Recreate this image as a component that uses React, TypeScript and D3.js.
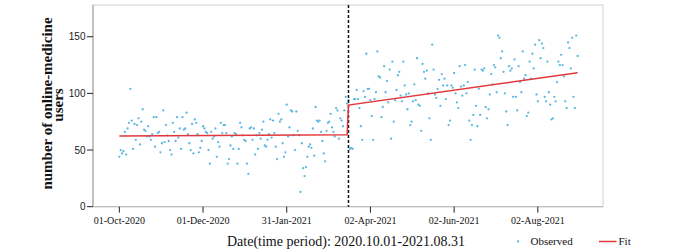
import React from "react";
import * as d3 from "d3";

// ---- data ----
const startDate = new Date(Date.UTC(2020, 9, 1)); // 01-Oct-2020, one value per day
const interventionDay = 167; // 17-Mar-2021

const observedPre = [
  44, 50, 47, 49, 66, 46, 69, 74, 104, 76,
  51, 73, 59, 72, 78, 55, 75, 86, 68, 67,
  62, 71, 62, 59, 64, 79, 53, 79, 65, 66,
  48, 56, 85, 57, 72, 63, 58, 50, 46, 74,
  66, 58, 79, 61, 69, 51, 79, 68, 69, 83,
  64, 56, 50, 73, 47, 77, 74, 64, 48, 52,
  58, 71, 69, 66, 65, 50, 38, 66, 60, 62,
  69, 44, 57, 53, 74, 65, 72, 72, 65, 38,
  42, 54, 62, 51, 65, 64, 38, 51, 74, 70,
  63, 59, 58, 38, 29, 69, 70, 59, 69, 46,
  63, 51, 65, 60, 68, 75, 54, 53, 59, 64,
  77, 61, 76, 65, 53, 42, 82, 75, 77, 56,
  44, 48, 90, 62, 70, 85, 84, 63, 50, 84,
  67, 63, 13, 56, 34, 27, 35, 44, 53, 55,
  52, 69, 45, 88, 76, 75, 76, 66, 58, 47,
  40, 67, 74, 75, 82, 70, 66, 62, 87, 85,
  60, 78, 76, 71, 85, 97, 91,
];

const observedPost = [
  94, 51, 52, 51, 95, 95, 103, 95, 87, 71, 59,
  102, 97, 135, 104, 104, 94, 80, 59, 95, 101,
  137, 115, 114, 79, 88, 124, 101, 111, 92, 121,
  60, 128, 75, 94, 103, 116, 119, 98, 93, 128,
  107, 99, 86, 100, 72, 75, 93, 108, 94, 131,
  90, 89, 67, 126, 119, 113, 120, 100, 78, 59,
  143, 121, 99, 96, 104, 112, 89, 117, 107, 113,
  95, 107, 72, 76, 107, 105, 118, 100, 92, 87,
  124, 106, 98, 107, 125, 100, 110, 76, 59, 72,
  81, 121, 89, 71, 104, 81, 121, 120, 122, 88,
  78, 86, 99, 117, 108, 125, 123, 101, 151, 149,
  131, 137, 119, 100, 84, 72, 124, 120, 122, 97,
  130, 97, 85, 124, 110, 101, 137, 113, 116, 80,
  83, 128, 113, 135, 122, 143, 99, 93, 147, 131,
  144, 140, 97, 93, 128, 101, 90, 77, 78, 97,
  93, 110, 128, 125, 134, 125, 115, 93, 87, 145,
  140, 122, 149, 97, 87, 151, 133,
];

const observed = [...observedPre, ...observedPost];

const fitDays = [0, 166, 167, 334];
const fitValues = [62.4, 63.5, 89.7, 118.2];

const xTickDates = ["2020-10-01", "2020-12-01", "2021-01-31", "2021-04-02", "2021-06-02", "2021-08-02"];
const yTicks = [0, 50, 100, 150];

const xTitle = "Date(time period): 2020.10.01-2021.08.31";
const yTitleLines = ["number of online-medicine", "users"];
const legendLabels = ["Observed", "Fit"];

// ---- layout ----
const W = 687;
const H = 252;
const plot = { left: 93, right: 603, top: 5, bottom: 206.7 };

const dayToDate = (d: number) => new Date(startDate.getTime() + d * 86400000);

export default function App() {
  const x = d3
    .scaleUtc()
    .domain([dayToDate(-19.2), dayToDate(352.5)])
    .range([plot.left, plot.right]);
  const y = d3.scaleLinear().domain([0, 178]).range([plot.bottom, plot.top]);
  const fmt = d3.utcFormat("%d-%b-%Y");
  const parse = d3.utcParse("%Y-%m-%d");

  const fitLine = d3
    .line<number>()
    .x((d, i) => x(dayToDate(fitDays[i])))
    .y((d) => y(d));

  const ix = x(dayToDate(interventionDay));
  const serif = "'Liberation Serif', 'Times New Roman', serif";
  const sans = "'Liberation Sans', Arial, sans-serif";
  const dotColor = "#5cb8e0";
  const red = "#e2383c";

  return (
    <svg width={W} height={H} style={{ position: "absolute", left: 0, top: 0, background: "#fff" }}>
      {/* frame */}
      <rect x={plot.left} y={plot.top} width={plot.right - plot.left} height={plot.bottom - plot.top} fill="none" stroke="#cfcfcf" strokeWidth={1} />
      <line x1={plot.left} x2={plot.left} y1={plot.top} y2={plot.bottom} stroke="#a8a8a8" strokeWidth={1.2} />
      <line x1={plot.left} x2={plot.right} y1={plot.bottom} y2={plot.bottom} stroke="#bdbdbd" strokeWidth={1.2} />

      {/* y ticks */}
      {yTicks.map((t) => (
        <g key={t}>
          <line x1={plot.left - 6} x2={plot.left} y1={y(t)} y2={y(t)} stroke="#222" strokeWidth={1} />
          <text x={plot.left - 7.5} y={y(t) + 3.6} textAnchor="end" fontFamily={sans} fontSize={10} fill="#222">
            {t}
          </text>
        </g>
      ))}

      {/* x ticks */}
      {xTickDates.map((s) => {
        const d = parse(s)!;
        const px = x(d);
        return (
          <g key={s}>
            <line x1={px} x2={px} y1={plot.bottom} y2={plot.bottom + 6} stroke="#222" strokeWidth={1} />
            <text x={px} y={plot.bottom + 17.5} textAnchor="middle" fontFamily={serif} fontSize={10} fill="#111">
              {fmt(d)}
            </text>
          </g>
        );
      })}

      {/* observed points */}
      {observed.map((v, i) => (
        <circle key={i} cx={x(dayToDate(i))} cy={y(v)} r={1.15} fill={dotColor} />
      ))}

      {/* intervention line */}
      <line x1={ix} x2={ix} y1={plot.top} y2={plot.bottom} stroke="#111" strokeWidth={1.5} strokeDasharray="3 2" />

      {/* fit */}
      <path d={fitLine(fitValues) || ""} fill="none" stroke={red} strokeWidth={1.5} />

      {/* y title */}
      <text transform={`translate(51.5,103.5) rotate(-90)`} textAnchor="middle" fontFamily={serif} fontWeight="bold" fontSize={15} fill="#111">
        {yTitleLines[0]}
      </text>
      <text transform={`translate(62.8,105) rotate(-90)`} textAnchor="middle" fontFamily={serif} fontWeight="bold" fontSize={15} fill="#111">
        {yTitleLines[1]}
      </text>

      {/* x title */}
      <text x={227} y={246} fontFamily={serif} fontSize={14} fill="#111">
        {xTitle}
      </text>

      {/* legend */}
      <circle cx={518} cy={241.5} r={1.15} fill={dotColor} />
      <text x={530.5} y={245.3} fontFamily={serif} fontSize={11} fill="#111">
        {legendLabels[0]}
      </text>
      <line x1={599} x2={616.5} y1={241.5} y2={241.5} stroke={red} strokeWidth={1.5} />
      <text x={618.5} y={245.3} fontFamily={serif} fontSize={11} fill="#111">
        {legendLabels[1]}
      </text>
    </svg>
  );
}
